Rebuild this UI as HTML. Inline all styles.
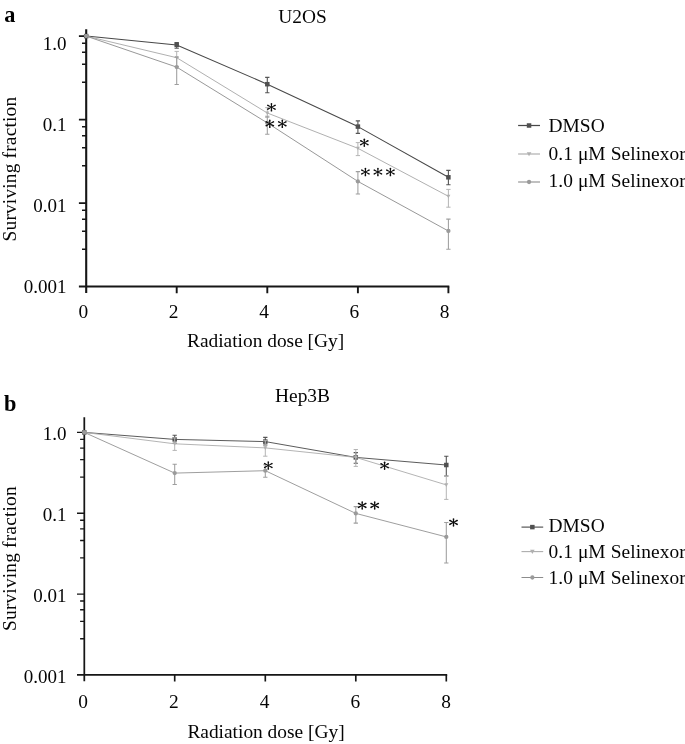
<!DOCTYPE html>
<html><head><meta charset="utf-8"><title>Survival curves</title>
<style>html,body{margin:0;padding:0;background:#fff;}body{width:685px;height:744px;overflow:hidden;font-family:"Liberation Serif",serif;}svg{display:block;filter:grayscale(1)}</style>
</head><body>
<svg width="685" height="744" viewBox="0 0 685 744">
<rect width="685" height="744" fill="#fff"/>
<path d="M86.20,29.20V292.90" stroke="#161616" stroke-width="2.1" fill="none"/>
<path d="M78.90,286.60H449.30" stroke="#161616" stroke-width="2.00" fill="none"/>
<path d="M78.90,36.10H86.20M82.00,43.30H86.20M82.00,52.28H86.20M82.00,64.26H86.20M82.00,82.26H86.20M78.90,119.60H86.20M82.00,126.80H86.20M82.00,135.78H86.20M82.00,147.76H86.20M82.00,165.76H86.20M78.90,203.10H86.20M82.00,210.30H86.20M82.00,219.28H86.20M82.00,231.26H86.20M82.00,249.26H86.20" stroke="#161616" stroke-width="1.6" fill="none"/>
<path d="M176.70,286.60V293.20M267.30,286.60V293.20M357.90,286.60V293.20M448.40,286.60V293.20" stroke="#161616" stroke-width="1.90" fill="none"/>
<polyline points="86.20,36.10 176.70,44.90 267.30,84.20 357.90,126.60 448.40,177.30" fill="none" stroke="#484848" stroke-width="1.05" stroke-linejoin="round"/>
<path d="M176.70,42.60V48.30M174.55,42.60h4.3M174.55,48.30h4.3" stroke="#555" stroke-width="1.1" fill="none"/>
<path d="M267.30,77.40V92.70M265.15,77.40h4.3M265.15,92.70h4.3" stroke="#555" stroke-width="1.1" fill="none"/>
<path d="M357.90,120.90V133.40M355.75,120.90h4.3M355.75,133.40h4.3" stroke="#555" stroke-width="1.1" fill="none"/>
<path d="M448.40,170.40V184.80M446.25,170.40h4.3M446.25,184.80h4.3" stroke="#555" stroke-width="1.1" fill="none"/>
<rect x="83.95" y="33.85" width="4.5" height="4.5" fill="#505050"/>
<rect x="174.45" y="42.65" width="4.5" height="4.5" fill="#505050"/>
<rect x="265.05" y="81.95" width="4.5" height="4.5" fill="#505050"/>
<rect x="355.65" y="124.35" width="4.5" height="4.5" fill="#505050"/>
<rect x="446.15" y="175.05" width="4.5" height="4.5" fill="#505050"/>
<polyline points="86.20,36.10 176.70,57.70 267.30,113.00 357.90,148.30 448.40,196.30" fill="none" stroke="#acacac" stroke-width="0.95" stroke-linejoin="round"/>
<path d="M176.70,51.40V66.50M174.55,51.40h4.3M174.55,66.50h4.3" stroke="#b4b4b4" stroke-width="1.0" fill="none"/>
<path d="M267.30,107.60V117.40M265.15,107.60h4.3M265.15,117.40h4.3" stroke="#b4b4b4" stroke-width="1.0" fill="none"/>
<path d="M357.90,142.60V155.60M355.75,142.60h4.3M355.75,155.60h4.3" stroke="#b4b4b4" stroke-width="1.0" fill="none"/>
<path d="M448.40,189.40V207.20M446.25,189.40h4.3M446.25,207.20h4.3" stroke="#b4b4b4" stroke-width="1.0" fill="none"/>
<path d="M84.20,34.50h4.0L86.20,38.10z" fill="#b0b0b0"/>
<path d="M174.70,56.10h4.0L176.70,59.70z" fill="#b0b0b0"/>
<path d="M265.30,111.40h4.0L267.30,115.00z" fill="#b0b0b0"/>
<path d="M355.90,146.70h4.0L357.90,150.30z" fill="#b0b0b0"/>
<path d="M446.40,194.70h4.0L448.40,198.30z" fill="#b0b0b0"/>
<polyline points="86.20,36.10 176.70,67.10 267.30,122.90 357.90,181.40 448.40,231.00" fill="none" stroke="#8c8c8c" stroke-width="0.9" stroke-linejoin="round"/>
<path d="M176.70,57.20V84.40M174.55,57.20h4.3M174.55,84.40h4.3" stroke="#9e9e9e" stroke-width="1.05" fill="none"/>
<path d="M267.30,116.30V134.30M265.15,116.30h4.3M265.15,134.30h4.3" stroke="#9e9e9e" stroke-width="1.05" fill="none"/>
<path d="M357.90,171.60V194.00M355.75,171.60h4.3M355.75,194.00h4.3" stroke="#9e9e9e" stroke-width="1.05" fill="none"/>
<path d="M448.40,219.10V249.30M446.25,219.10h4.3M446.25,249.30h4.3" stroke="#9e9e9e" stroke-width="1.05" fill="none"/>
<circle cx="86.20" cy="36.10" r="2.15" fill="#9a9a9a"/>
<circle cx="176.70" cy="67.10" r="2.15" fill="#9a9a9a"/>
<circle cx="267.30" cy="122.90" r="2.15" fill="#9a9a9a"/>
<circle cx="357.90" cy="181.40" r="2.15" fill="#9a9a9a"/>
<circle cx="448.40" cy="231.00" r="2.15" fill="#9a9a9a"/>
<text x="66.5" y="50.00" text-anchor="end" font-size="19.0" font-family="Liberation Serif, serif" fill="#050505">1.0</text>
<text x="66.5" y="130.93" text-anchor="end" font-size="19.0" font-family="Liberation Serif, serif" fill="#050505">0.1</text>
<text x="66.5" y="211.86" text-anchor="end" font-size="19.0" font-family="Liberation Serif, serif" fill="#050505">0.01</text>
<text x="66.5" y="292.79" text-anchor="end" font-size="19.0" font-family="Liberation Serif, serif" fill="#050505">0.001</text>
<text x="83.30" y="317.8" text-anchor="middle" font-size="19.4" font-family="Liberation Serif, serif" fill="#050505">0</text>
<text x="173.65" y="317.8" text-anchor="middle" font-size="19.4" font-family="Liberation Serif, serif" fill="#050505">2</text>
<text x="264.00" y="317.8" text-anchor="middle" font-size="19.4" font-family="Liberation Serif, serif" fill="#050505">4</text>
<text x="354.35" y="317.8" text-anchor="middle" font-size="19.4" font-family="Liberation Serif, serif" fill="#050505">6</text>
<text x="444.70" y="317.8" text-anchor="middle" font-size="19.4" font-family="Liberation Serif, serif" fill="#050505">8</text>
<text x="265.6" y="346.7" text-anchor="middle" font-size="19.4" font-family="Liberation Serif, serif" fill="#050505">Radiation dose [Gy]</text>
<text transform="translate(16.3,169.1) rotate(-90)" text-anchor="middle" letter-spacing="0.17" font-size="19.4" font-family="Liberation Serif, serif" fill="#050505">Surviving fraction</text>
<text x="302.6" y="22.6" text-anchor="middle" font-size="19.4" font-family="Liberation Serif, serif" fill="#050505">U2OS</text>
<text transform="translate(4.3,21.7) scale(0.93,1.0)" font-size="24" font-weight="bold" font-family="Liberation Serif, serif" fill="#000">a</text>
<g transform="translate(271.45,107.25)" fill="#0c0c0c"><path d="M-0.36,0L-0.8,-3.40Q-0.8,-4.25 0,-4.25Q0.8,-4.25 0.8,-3.40L0.36,0Z" transform="rotate(0)"/><path d="M-0.36,0L-0.8,-3.40Q-0.8,-4.25 0,-4.25Q0.8,-4.25 0.8,-3.40L0.36,0Z" transform="rotate(180)"/><path d="M-0.36,0L-0.8,-4.05Q-0.8,-4.90 0,-4.90Q0.8,-4.90 0.8,-4.05L0.36,0Z" transform="rotate(62)"/><path d="M-0.36,0L-0.8,-4.05Q-0.8,-4.90 0,-4.90Q0.8,-4.90 0.8,-4.05L0.36,0Z" transform="rotate(118)"/><path d="M-0.36,0L-0.8,-4.05Q-0.8,-4.90 0,-4.90Q0.8,-4.90 0.8,-4.05L0.36,0Z" transform="rotate(242)"/><path d="M-0.36,0L-0.8,-4.05Q-0.8,-4.90 0,-4.90Q0.8,-4.90 0.8,-4.05L0.36,0Z" transform="rotate(298)"/><circle r="1.0"/></g>
<g transform="translate(269.80,123.80)" fill="#0c0c0c"><path d="M-0.36,0L-0.8,-3.40Q-0.8,-4.25 0,-4.25Q0.8,-4.25 0.8,-3.40L0.36,0Z" transform="rotate(0)"/><path d="M-0.36,0L-0.8,-3.40Q-0.8,-4.25 0,-4.25Q0.8,-4.25 0.8,-3.40L0.36,0Z" transform="rotate(180)"/><path d="M-0.36,0L-0.8,-4.05Q-0.8,-4.90 0,-4.90Q0.8,-4.90 0.8,-4.05L0.36,0Z" transform="rotate(62)"/><path d="M-0.36,0L-0.8,-4.05Q-0.8,-4.90 0,-4.90Q0.8,-4.90 0.8,-4.05L0.36,0Z" transform="rotate(118)"/><path d="M-0.36,0L-0.8,-4.05Q-0.8,-4.90 0,-4.90Q0.8,-4.90 0.8,-4.05L0.36,0Z" transform="rotate(242)"/><path d="M-0.36,0L-0.8,-4.05Q-0.8,-4.90 0,-4.90Q0.8,-4.90 0.8,-4.05L0.36,0Z" transform="rotate(298)"/><circle r="1.0"/></g>
<g transform="translate(282.30,123.80)" fill="#0c0c0c"><path d="M-0.36,0L-0.8,-3.40Q-0.8,-4.25 0,-4.25Q0.8,-4.25 0.8,-3.40L0.36,0Z" transform="rotate(0)"/><path d="M-0.36,0L-0.8,-3.40Q-0.8,-4.25 0,-4.25Q0.8,-4.25 0.8,-3.40L0.36,0Z" transform="rotate(180)"/><path d="M-0.36,0L-0.8,-4.05Q-0.8,-4.90 0,-4.90Q0.8,-4.90 0.8,-4.05L0.36,0Z" transform="rotate(62)"/><path d="M-0.36,0L-0.8,-4.05Q-0.8,-4.90 0,-4.90Q0.8,-4.90 0.8,-4.05L0.36,0Z" transform="rotate(118)"/><path d="M-0.36,0L-0.8,-4.05Q-0.8,-4.90 0,-4.90Q0.8,-4.90 0.8,-4.05L0.36,0Z" transform="rotate(242)"/><path d="M-0.36,0L-0.8,-4.05Q-0.8,-4.90 0,-4.90Q0.8,-4.90 0.8,-4.05L0.36,0Z" transform="rotate(298)"/><circle r="1.0"/></g>
<g transform="translate(364.30,142.70)" fill="#0c0c0c"><path d="M-0.36,0L-0.8,-3.40Q-0.8,-4.25 0,-4.25Q0.8,-4.25 0.8,-3.40L0.36,0Z" transform="rotate(0)"/><path d="M-0.36,0L-0.8,-3.40Q-0.8,-4.25 0,-4.25Q0.8,-4.25 0.8,-3.40L0.36,0Z" transform="rotate(180)"/><path d="M-0.36,0L-0.8,-4.05Q-0.8,-4.90 0,-4.90Q0.8,-4.90 0.8,-4.05L0.36,0Z" transform="rotate(62)"/><path d="M-0.36,0L-0.8,-4.05Q-0.8,-4.90 0,-4.90Q0.8,-4.90 0.8,-4.05L0.36,0Z" transform="rotate(118)"/><path d="M-0.36,0L-0.8,-4.05Q-0.8,-4.90 0,-4.90Q0.8,-4.90 0.8,-4.05L0.36,0Z" transform="rotate(242)"/><path d="M-0.36,0L-0.8,-4.05Q-0.8,-4.90 0,-4.90Q0.8,-4.90 0.8,-4.05L0.36,0Z" transform="rotate(298)"/><circle r="1.0"/></g>
<g transform="translate(365.40,172.00)" fill="#0c0c0c"><path d="M-0.36,0L-0.8,-3.40Q-0.8,-4.25 0,-4.25Q0.8,-4.25 0.8,-3.40L0.36,0Z" transform="rotate(0)"/><path d="M-0.36,0L-0.8,-3.40Q-0.8,-4.25 0,-4.25Q0.8,-4.25 0.8,-3.40L0.36,0Z" transform="rotate(180)"/><path d="M-0.36,0L-0.8,-4.05Q-0.8,-4.90 0,-4.90Q0.8,-4.90 0.8,-4.05L0.36,0Z" transform="rotate(62)"/><path d="M-0.36,0L-0.8,-4.05Q-0.8,-4.90 0,-4.90Q0.8,-4.90 0.8,-4.05L0.36,0Z" transform="rotate(118)"/><path d="M-0.36,0L-0.8,-4.05Q-0.8,-4.90 0,-4.90Q0.8,-4.90 0.8,-4.05L0.36,0Z" transform="rotate(242)"/><path d="M-0.36,0L-0.8,-4.05Q-0.8,-4.90 0,-4.90Q0.8,-4.90 0.8,-4.05L0.36,0Z" transform="rotate(298)"/><circle r="1.0"/></g>
<g transform="translate(377.90,172.00)" fill="#0c0c0c"><path d="M-0.36,0L-0.8,-3.40Q-0.8,-4.25 0,-4.25Q0.8,-4.25 0.8,-3.40L0.36,0Z" transform="rotate(0)"/><path d="M-0.36,0L-0.8,-3.40Q-0.8,-4.25 0,-4.25Q0.8,-4.25 0.8,-3.40L0.36,0Z" transform="rotate(180)"/><path d="M-0.36,0L-0.8,-4.05Q-0.8,-4.90 0,-4.90Q0.8,-4.90 0.8,-4.05L0.36,0Z" transform="rotate(62)"/><path d="M-0.36,0L-0.8,-4.05Q-0.8,-4.90 0,-4.90Q0.8,-4.90 0.8,-4.05L0.36,0Z" transform="rotate(118)"/><path d="M-0.36,0L-0.8,-4.05Q-0.8,-4.90 0,-4.90Q0.8,-4.90 0.8,-4.05L0.36,0Z" transform="rotate(242)"/><path d="M-0.36,0L-0.8,-4.05Q-0.8,-4.90 0,-4.90Q0.8,-4.90 0.8,-4.05L0.36,0Z" transform="rotate(298)"/><circle r="1.0"/></g>
<g transform="translate(390.40,172.00)" fill="#0c0c0c"><path d="M-0.36,0L-0.8,-3.40Q-0.8,-4.25 0,-4.25Q0.8,-4.25 0.8,-3.40L0.36,0Z" transform="rotate(0)"/><path d="M-0.36,0L-0.8,-3.40Q-0.8,-4.25 0,-4.25Q0.8,-4.25 0.8,-3.40L0.36,0Z" transform="rotate(180)"/><path d="M-0.36,0L-0.8,-4.05Q-0.8,-4.90 0,-4.90Q0.8,-4.90 0.8,-4.05L0.36,0Z" transform="rotate(62)"/><path d="M-0.36,0L-0.8,-4.05Q-0.8,-4.90 0,-4.90Q0.8,-4.90 0.8,-4.05L0.36,0Z" transform="rotate(118)"/><path d="M-0.36,0L-0.8,-4.05Q-0.8,-4.90 0,-4.90Q0.8,-4.90 0.8,-4.05L0.36,0Z" transform="rotate(242)"/><path d="M-0.36,0L-0.8,-4.05Q-0.8,-4.90 0,-4.90Q0.8,-4.90 0.8,-4.05L0.36,0Z" transform="rotate(298)"/><circle r="1.0"/></g>
<path d="M518.1,125.5H540" stroke="#484848" stroke-width="1.25" fill="none"/>
<rect x="526.80" y="123.25" width="4.5" height="4.5" fill="#505050"/>
<text x="548.4" y="132.3" letter-spacing="0.1" font-size="19.4" font-family="Liberation Serif, serif" fill="#050505">DMSO</text>
<path d="M518.1,154.0H540" stroke="#acacac" stroke-width="1.15" fill="none"/>
<path d="M526.75,152.16h4.6L529.05,156.30z" fill="#b0b0b0"/>
<text x="548.4" y="160.1" letter-spacing="0.1" font-size="19.4" font-family="Liberation Serif, serif" fill="#050505">0.1 μM Selinexor</text>
<path d="M518.1,182.0H540" stroke="#8c8c8c" stroke-width="1.1" fill="none"/>
<circle cx="529.05" cy="182.00" r="2.15" fill="#9a9a9a"/>
<text x="548.4" y="187.2" letter-spacing="0.1" font-size="19.4" font-family="Liberation Serif, serif" fill="#050505">1.0 μM Selinexor</text>
<path d="M84.30,417.20V681.19" stroke="#161616" stroke-width="1.75" fill="none"/>
<path d="M77.00,674.89H447.20" stroke="#161616" stroke-width="1.65" fill="none"/>
<path d="M77.00,432.40H84.30M80.10,439.37H84.30M80.10,448.07H84.30M80.10,459.66H84.30M80.10,477.09H84.30M77.00,513.23H84.30M80.10,520.20H84.30M80.10,528.90H84.30M80.10,540.49H84.30M80.10,557.92H84.30M77.00,594.06H84.30M80.10,601.03H84.30M80.10,609.73H84.30M80.10,621.32H84.30M80.10,638.75H84.30" stroke="#161616" stroke-width="1.35" fill="none"/>
<path d="M174.70,674.89V681.49M265.30,674.89V681.49M355.80,674.89V681.49M446.30,674.89V681.49" stroke="#161616" stroke-width="1.65" fill="none"/>
<polyline points="84.30,432.40 174.70,439.40 265.30,441.60 355.80,457.40 446.30,465.00" fill="none" stroke="#484848" stroke-width="0.9" stroke-linejoin="round"/>
<path d="M174.70,435.20V443.30M172.55,435.20h4.3M172.55,443.30h4.3" stroke="#555" stroke-width="1.1" fill="none"/>
<path d="M265.30,437.40V445.00M263.15,437.40h4.3M263.15,445.00h4.3" stroke="#555" stroke-width="1.1" fill="none"/>
<path d="M355.80,452.60V463.20M353.65,452.60h4.3M353.65,463.20h4.3" stroke="#555" stroke-width="1.1" fill="none"/>
<path d="M446.30,456.30V476.00M444.15,456.30h4.3M444.15,476.00h4.3" stroke="#555" stroke-width="1.1" fill="none"/>
<rect x="82.05" y="430.15" width="4.5" height="4.5" fill="#505050"/>
<rect x="172.45" y="437.15" width="4.5" height="4.5" fill="#505050"/>
<rect x="263.05" y="439.35" width="4.5" height="4.5" fill="#505050"/>
<rect x="353.55" y="455.15" width="4.5" height="4.5" fill="#505050"/>
<rect x="444.05" y="462.75" width="4.5" height="4.5" fill="#505050"/>
<polyline points="84.30,432.40 174.70,443.80 265.30,447.90 355.80,457.40 446.30,484.90" fill="none" stroke="#acacac" stroke-width="0.9" stroke-linejoin="round"/>
<path d="M174.70,437.90V450.40M172.55,437.90h4.3M172.55,450.40h4.3" stroke="#b4b4b4" stroke-width="1.0" fill="none"/>
<path d="M265.30,440.70V456.20M263.15,440.70h4.3M263.15,456.20h4.3" stroke="#b4b4b4" stroke-width="1.0" fill="none"/>
<path d="M355.80,449.50V466.40M353.65,449.50h4.3M353.65,466.40h4.3" stroke="#b4b4b4" stroke-width="1.0" fill="none"/>
<path d="M446.30,476.00V499.40M444.15,476.00h4.3M444.15,499.40h4.3" stroke="#b4b4b4" stroke-width="1.0" fill="none"/>
<path d="M82.30,430.80h4.0L84.30,434.40z" fill="#b0b0b0"/>
<path d="M172.70,442.20h4.0L174.70,445.80z" fill="#b0b0b0"/>
<path d="M263.30,446.30h4.0L265.30,449.90z" fill="#b0b0b0"/>
<path d="M353.80,455.80h4.0L355.80,459.40z" fill="#b0b0b0"/>
<path d="M444.30,483.30h4.0L446.30,486.90z" fill="#b0b0b0"/>
<polyline points="84.30,432.40 174.70,473.10 265.30,470.70 355.80,513.40 446.30,536.90" fill="none" stroke="#8c8c8c" stroke-width="0.85" stroke-linejoin="round"/>
<path d="M174.70,464.30V484.40M172.55,464.30h4.3M172.55,484.40h4.3" stroke="#9e9e9e" stroke-width="1.05" fill="none"/>
<path d="M265.30,464.70V477.20M263.15,464.70h4.3M263.15,477.20h4.3" stroke="#9e9e9e" stroke-width="1.05" fill="none"/>
<path d="M355.80,506.60V523.10M353.65,506.60h4.3M353.65,523.10h4.3" stroke="#9e9e9e" stroke-width="1.05" fill="none"/>
<path d="M446.30,522.40V562.90M444.15,522.40h4.3M444.15,562.90h4.3" stroke="#9e9e9e" stroke-width="1.05" fill="none"/>
<circle cx="84.30" cy="432.40" r="2.15" fill="#9a9a9a"/>
<circle cx="174.70" cy="473.10" r="2.15" fill="#9a9a9a"/>
<circle cx="265.30" cy="470.70" r="2.15" fill="#9a9a9a"/>
<circle cx="355.80" cy="513.40" r="2.15" fill="#9a9a9a"/>
<circle cx="446.30" cy="536.90" r="2.15" fill="#9a9a9a"/>
<text x="66.5" y="440.20" text-anchor="end" font-size="19.0" font-family="Liberation Serif, serif" fill="#050505">1.0</text>
<text x="66.5" y="521.13" text-anchor="end" font-size="19.0" font-family="Liberation Serif, serif" fill="#050505">0.1</text>
<text x="66.5" y="602.06" text-anchor="end" font-size="19.0" font-family="Liberation Serif, serif" fill="#050505">0.01</text>
<text x="66.5" y="682.99" text-anchor="end" font-size="19.0" font-family="Liberation Serif, serif" fill="#050505">0.001</text>
<text x="83.00" y="707.6" text-anchor="middle" font-size="19.4" font-family="Liberation Serif, serif" fill="#050505">0</text>
<text x="173.80" y="707.6" text-anchor="middle" font-size="19.4" font-family="Liberation Serif, serif" fill="#050505">2</text>
<text x="264.60" y="707.6" text-anchor="middle" font-size="19.4" font-family="Liberation Serif, serif" fill="#050505">4</text>
<text x="355.40" y="707.6" text-anchor="middle" font-size="19.4" font-family="Liberation Serif, serif" fill="#050505">6</text>
<text x="446.20" y="707.6" text-anchor="middle" font-size="19.4" font-family="Liberation Serif, serif" fill="#050505">8</text>
<text x="266.0" y="737.5" text-anchor="middle" font-size="19.4" font-family="Liberation Serif, serif" fill="#050505">Radiation dose [Gy]</text>
<text transform="translate(16.4,558.6) rotate(-90)" text-anchor="middle" letter-spacing="0.17" font-size="19.4" font-family="Liberation Serif, serif" fill="#050505">Surviving fraction</text>
<text x="302.5" y="401.5" text-anchor="middle" font-size="19.4" font-family="Liberation Serif, serif" fill="#050505">Hep3B</text>
<text transform="translate(4.1,411.3) scale(0.93,1.0)" font-size="24" font-weight="bold" font-family="Liberation Serif, serif" fill="#000">b</text>
<g transform="translate(268.30,465.50)" fill="#0c0c0c"><path d="M-0.36,0L-0.8,-3.40Q-0.8,-4.25 0,-4.25Q0.8,-4.25 0.8,-3.40L0.36,0Z" transform="rotate(0)"/><path d="M-0.36,0L-0.8,-3.40Q-0.8,-4.25 0,-4.25Q0.8,-4.25 0.8,-3.40L0.36,0Z" transform="rotate(180)"/><path d="M-0.36,0L-0.8,-4.05Q-0.8,-4.90 0,-4.90Q0.8,-4.90 0.8,-4.05L0.36,0Z" transform="rotate(62)"/><path d="M-0.36,0L-0.8,-4.05Q-0.8,-4.90 0,-4.90Q0.8,-4.90 0.8,-4.05L0.36,0Z" transform="rotate(118)"/><path d="M-0.36,0L-0.8,-4.05Q-0.8,-4.90 0,-4.90Q0.8,-4.90 0.8,-4.05L0.36,0Z" transform="rotate(242)"/><path d="M-0.36,0L-0.8,-4.05Q-0.8,-4.90 0,-4.90Q0.8,-4.90 0.8,-4.05L0.36,0Z" transform="rotate(298)"/><circle r="1.0"/></g>
<g transform="translate(384.60,465.70)" fill="#0c0c0c"><path d="M-0.36,0L-0.8,-3.40Q-0.8,-4.25 0,-4.25Q0.8,-4.25 0.8,-3.40L0.36,0Z" transform="rotate(0)"/><path d="M-0.36,0L-0.8,-3.40Q-0.8,-4.25 0,-4.25Q0.8,-4.25 0.8,-3.40L0.36,0Z" transform="rotate(180)"/><path d="M-0.36,0L-0.8,-4.05Q-0.8,-4.90 0,-4.90Q0.8,-4.90 0.8,-4.05L0.36,0Z" transform="rotate(62)"/><path d="M-0.36,0L-0.8,-4.05Q-0.8,-4.90 0,-4.90Q0.8,-4.90 0.8,-4.05L0.36,0Z" transform="rotate(118)"/><path d="M-0.36,0L-0.8,-4.05Q-0.8,-4.90 0,-4.90Q0.8,-4.90 0.8,-4.05L0.36,0Z" transform="rotate(242)"/><path d="M-0.36,0L-0.8,-4.05Q-0.8,-4.90 0,-4.90Q0.8,-4.90 0.8,-4.05L0.36,0Z" transform="rotate(298)"/><circle r="1.0"/></g>
<g transform="translate(362.20,505.40)" fill="#0c0c0c"><path d="M-0.36,0L-0.8,-3.40Q-0.8,-4.25 0,-4.25Q0.8,-4.25 0.8,-3.40L0.36,0Z" transform="rotate(0)"/><path d="M-0.36,0L-0.8,-3.40Q-0.8,-4.25 0,-4.25Q0.8,-4.25 0.8,-3.40L0.36,0Z" transform="rotate(180)"/><path d="M-0.36,0L-0.8,-4.05Q-0.8,-4.90 0,-4.90Q0.8,-4.90 0.8,-4.05L0.36,0Z" transform="rotate(62)"/><path d="M-0.36,0L-0.8,-4.05Q-0.8,-4.90 0,-4.90Q0.8,-4.90 0.8,-4.05L0.36,0Z" transform="rotate(118)"/><path d="M-0.36,0L-0.8,-4.05Q-0.8,-4.90 0,-4.90Q0.8,-4.90 0.8,-4.05L0.36,0Z" transform="rotate(242)"/><path d="M-0.36,0L-0.8,-4.05Q-0.8,-4.90 0,-4.90Q0.8,-4.90 0.8,-4.05L0.36,0Z" transform="rotate(298)"/><circle r="1.0"/></g>
<g transform="translate(374.70,505.40)" fill="#0c0c0c"><path d="M-0.36,0L-0.8,-3.40Q-0.8,-4.25 0,-4.25Q0.8,-4.25 0.8,-3.40L0.36,0Z" transform="rotate(0)"/><path d="M-0.36,0L-0.8,-3.40Q-0.8,-4.25 0,-4.25Q0.8,-4.25 0.8,-3.40L0.36,0Z" transform="rotate(180)"/><path d="M-0.36,0L-0.8,-4.05Q-0.8,-4.90 0,-4.90Q0.8,-4.90 0.8,-4.05L0.36,0Z" transform="rotate(62)"/><path d="M-0.36,0L-0.8,-4.05Q-0.8,-4.90 0,-4.90Q0.8,-4.90 0.8,-4.05L0.36,0Z" transform="rotate(118)"/><path d="M-0.36,0L-0.8,-4.05Q-0.8,-4.90 0,-4.90Q0.8,-4.90 0.8,-4.05L0.36,0Z" transform="rotate(242)"/><path d="M-0.36,0L-0.8,-4.05Q-0.8,-4.90 0,-4.90Q0.8,-4.90 0.8,-4.05L0.36,0Z" transform="rotate(298)"/><circle r="1.0"/></g>
<g transform="translate(453.50,522.40)" fill="#0c0c0c"><path d="M-0.36,0L-0.8,-3.40Q-0.8,-4.25 0,-4.25Q0.8,-4.25 0.8,-3.40L0.36,0Z" transform="rotate(0)"/><path d="M-0.36,0L-0.8,-3.40Q-0.8,-4.25 0,-4.25Q0.8,-4.25 0.8,-3.40L0.36,0Z" transform="rotate(180)"/><path d="M-0.36,0L-0.8,-4.05Q-0.8,-4.90 0,-4.90Q0.8,-4.90 0.8,-4.05L0.36,0Z" transform="rotate(62)"/><path d="M-0.36,0L-0.8,-4.05Q-0.8,-4.90 0,-4.90Q0.8,-4.90 0.8,-4.05L0.36,0Z" transform="rotate(118)"/><path d="M-0.36,0L-0.8,-4.05Q-0.8,-4.90 0,-4.90Q0.8,-4.90 0.8,-4.05L0.36,0Z" transform="rotate(242)"/><path d="M-0.36,0L-0.8,-4.05Q-0.8,-4.90 0,-4.90Q0.8,-4.90 0.8,-4.05L0.36,0Z" transform="rotate(298)"/><circle r="1.0"/></g>
<path d="M521.5,527.1H543.2" stroke="#484848" stroke-width="1.1" fill="none"/>
<rect x="530.10" y="524.85" width="4.5" height="4.5" fill="#505050"/>
<text x="548.4" y="532.1" letter-spacing="0.1" font-size="19.4" font-family="Liberation Serif, serif" fill="#050505">DMSO</text>
<path d="M521.5,551.6H543.2" stroke="#acacac" stroke-width="1.1" fill="none"/>
<path d="M530.05,549.76h4.6L532.35,553.90z" fill="#b0b0b0"/>
<text x="548.4" y="557.7" letter-spacing="0.1" font-size="19.4" font-family="Liberation Serif, serif" fill="#050505">0.1 μM Selinexor</text>
<path d="M521.5,577.5H543.2" stroke="#8c8c8c" stroke-width="1.05" fill="none"/>
<circle cx="532.35" cy="577.50" r="2.15" fill="#9a9a9a"/>
<text x="548.4" y="583.6" letter-spacing="0.1" font-size="19.4" font-family="Liberation Serif, serif" fill="#050505">1.0 μM Selinexor</text>
</svg>
</body></html>
